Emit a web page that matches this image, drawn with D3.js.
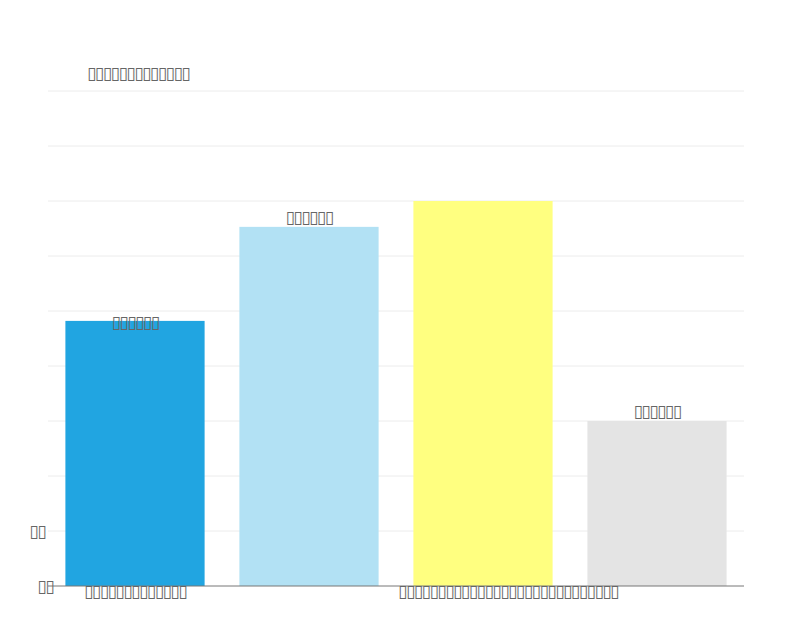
<!DOCTYPE html>
<html>
<head>
<meta charset="utf-8">
<script src="https://cdn.jsdelivr.net/npm/d3@7/dist/d3.min.js"></script>
<style>
  html, body { margin: 0; padding: 0; background: #fff; }
  text { font-family: "DejaVu Sans", sans-serif; fill: #666; letter-spacing: -1.5px; }
</style>
</head>
<body>
<svg id="chart" width="792" height="634"></svg>
<script>
// Text in the reference is unreadable (rendered as empty glyph boxes); kept as boxes.
const B = "\u25AF";
const titleText = B.repeat(13);
const categories = [B.repeat(13), "", B.repeat(28), ""];
const values = [4.82, 6.53, 7.0, 3.0];
const valueLabels = [B.repeat(6), B.repeat(6), "", B.repeat(6)];
const barColors = ["#21a5e1", "#b2e1f4", "#ffff80", "#e4e4e4"];
const yTicks = [0, 1, 2, 3, 4, 5, 6, 7, 8, 9];
const yTickLabels = [B + B, B + B, "", "", "", "", "", "", "", ""];

const svg = d3.select("#chart");
const mLeft = 48, mRight = 744, mTop = 91, mBottom = 586;
const FS = 17;

const x = d3.scaleBand().domain(d3.range(categories.length)).range([mLeft, mRight])
  .paddingInner(0.2).paddingOuter(0.1);
const y = d3.scaleLinear().domain([0, 9]).range([mBottom, mTop]);

// gridlines
svg.append("g").selectAll("line").data(yTicks.slice(1)).join("line")
  .attr("x1", mLeft).attr("x2", mRight)
  .attr("y1", d => y(d)).attr("y2", d => y(d))
  .attr("stroke", "#ececec").attr("stroke-width", 1);

// bars
svg.append("g").selectAll("rect").data(values).join("rect")
  .attr("x", (d, i) => x(i)).attr("width", x.bandwidth())
  .attr("y", d => y(d)).attr("height", d => y(0) - y(d))
  .attr("fill", (d, i) => barColors[i]);

// x axis
const xAxis = d3.axisBottom(x).tickSize(0).tickPadding(0).tickFormat(i => categories[i]);
const gx = svg.append("g").attr("transform", `translate(0,${mBottom})`).call(xAxis);
gx.select(".domain").attr("stroke", "#777").attr("d", `M${mLeft},0H${mRight}`);
gx.selectAll("text").attr("font-size", FS).attr("fill", "#666")
  .attr("font-family", "DejaVu Sans, sans-serif")
  .attr("dy", "0.62em")
  .attr("dx", (d, i) => i === 2 ? 25 : 0);

// y axis labels
const yAxis = d3.axisLeft(y).tickValues(yTicks).tickSize(0).tickPadding(3)
  .tickFormat((d, i) => yTickLabels[i]);
const gy = svg.append("g").attr("transform", `translate(${mLeft},0)`).call(yAxis);
gy.select(".domain").remove();
gy.selectAll("text").attr("font-size", FS).attr("fill", "#666")
  .attr("font-family", "DejaVu Sans, sans-serif")
  .attr("dx", d => d === 0 ? 8 : 0);

// value labels
const labelOffset = [-1, 10, 10, 10];
svg.append("g").selectAll("text").data(values).join("text")
  .attr("x", (d, i) => x(i) + x.bandwidth() / 2)
  .attr("y", (d, i) => y(d) - labelOffset[i])
  .attr("dy", "0.35em")
  .attr("text-anchor", "middle").attr("font-size", FS)
  .text((d, i) => valueLabels[i]);

// title
svg.append("text").attr("x", 87).attr("y", 73).attr("dy", "0.35em")
  .attr("font-size", FS).text(titleText);
</script>
</body>
</html>
